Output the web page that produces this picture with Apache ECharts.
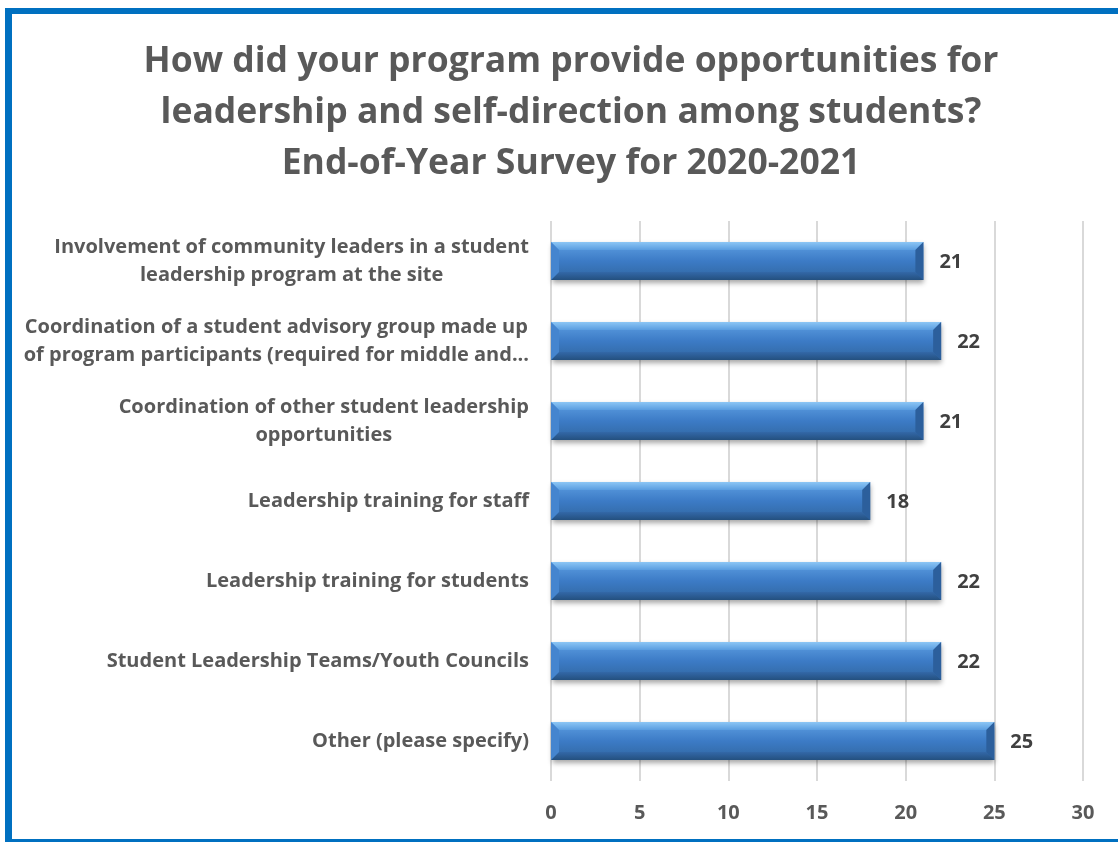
<!DOCTYPE html>
<html>
<head>
<meta charset="utf-8">
<script src="https://cdn.jsdelivr.net/npm/echarts@6/dist/echarts.min.js"></script>
<style>
  html, body { margin: 0; padding: 0; background: #ffffff; }
  #chart { width: 1118px; height: 842px; }
</style>
</head>
<body>
<div id="chart"></div>
<script>
// Survey responses, listed top to bottom
const categories = [
  "Involvement of community leaders in a student\nleadership program at the site",
  "Coordination of a student advisory group made up\nof program participants (required for middle and...",
  "Coordination of other student leadership\nopportunities",
  "Leadership training for staff",
  "Leadership training for students",
  "Student Leadership Teams/Youth Councils",
  "Other (please specify)"
];
const counts = [21, 22, 21, 18, 22, 22, 25];
const axisTicks = [0, 5, 10, 15, 20, 25, 30];

const titleLines = [
  "How did your program provide opportunities for",
  "leadership and self-direction among students?",
  "End-of-Year Survey for 2020-2021"
];

const FONT = '"Open Sans", Lato, sans-serif';
const chart = echarts.init(document.getElementById('chart'), null, { renderer: 'canvas' });

// Beveled bar: body plus four edge facets, with a soft drop shadow
function renderBar(params, api) {
  const v = api.value(1);
  const c = api.coord([v, api.value(0)]);
  const o = api.coord([0, api.value(0)]);
  const h = 38;
  const x0 = o[0], x1 = c[0];
  const y0 = c[1] - h / 2, y1 = c[1] + h / 2;
  const b = 8;
  return {
    type: 'group',
    children: [
      {
        type: 'rect',
        shape: { x: x0, y: y0, width: x1 - x0, height: h },
        style: {
          fill: new echarts.graphic.LinearGradient(0, 0, 0, 1, [
            { offset: 0, color: '#5e9fe2' },
            { offset: 0.5, color: '#3c7bc6' },
            { offset: 1, color: '#30669f' }
          ]),
          shadowBlur: 5,
          shadowOffsetY: 3,
          shadowOffsetX: 1,
          shadowColor: 'rgba(0,0,0,0.35)'
        }
      },
      {
        type: 'polygon',
        shape: { points: [[x0, y0], [x1, y0], [x1 - b, y0 + b], [x0 + b, y0 + b]] },
        style: {
          fill: new echarts.graphic.LinearGradient(0, 0, 0, 1, [
            { offset: 0, color: '#8cc6f5' },
            { offset: 1, color: '#5a9de0' }
          ])
        }
      },
      {
        type: 'polygon',
        shape: { points: [[x0, y1], [x1, y1], [x1 - b, y1 - b], [x0 + b, y1 - b]] },
        style: {
          fill: new echarts.graphic.LinearGradient(0, 0, 0, 1, [
            { offset: 0, color: '#3368a8' },
            { offset: 1, color: '#24507f' }
          ])
        }
      },
      {
        type: 'polygon',
        shape: { points: [[x0, y0], [x0 + b, y0 + b], [x0 + b, y1 - b], [x0, y1]] },
        style: { fill: '#4585cf' }
      },
      {
        type: 'polygon',
        shape: { points: [[x1, y0], [x1 - b, y0 + b], [x1 - b, y1 - b], [x1, y1]] },
        style: { fill: '#2c5f9c' }
      },
      {
        type: 'text',
        style: {
          text: String(v),
          x: x1 + 16,
          y: c[1] + 1,
          align: 'left',
          verticalAlign: 'middle',
          fill: '#404040',
          font: 'bold 20px ' + FONT
        }
      }
    ]
  };
}

const option = {
  backgroundColor: '#ffffff',
  animation: false,
  title: {
    text: titleLines.join('\n'),
    left: 566,
    textAlign: 'center',
    top: 31,
    textStyle: {
      fontFamily: FONT,
      fontWeight: 'bold',
      fontSize: 35.5,
      lineHeight: 51,
      color: '#595959'
    }
  },
  grid: { left: 551, right: 35, top: 221, bottom: 61 },
  xAxis: {
    type: 'value',
    min: axisTicks[0],
    max: axisTicks[axisTicks.length - 1],
    interval: axisTicks[1] - axisTicks[0],
    axisLine: { show: false },
    axisTick: { show: false },
    splitLine: { lineStyle: { color: '#d9d9d9', width: 2 } },
    axisLabel: {
      margin: 22,
      color: '#595959',
      fontFamily: FONT,
      fontWeight: 'bold',
      fontSize: 20
    }
  },
  yAxis: {
    type: 'category',
    inverse: true,
    data: categories,
    axisLine: { show: false },
    axisTick: { show: false },
    axisLabel: {
      margin: 22,
      color: '#595959',
      fontFamily: FONT,
      fontWeight: 'bold',
      fontSize: 20,
      lineHeight: 28,
      formatter: function (val) {
        return val.split('\n').map(function (s) { return '{c|' + s + '}'; }).join('\n');
      },
      rich: {
        c: {
          align: 'center',
          color: '#595959',
          fontFamily: FONT,
          fontWeight: 'bold',
          fontSize: 20,
          lineHeight: 28
        }
      }
    }
  },
  series: [{
    type: 'custom',
    renderItem: renderBar,
    encode: { x: 1, y: 0 },
    data: counts.map(function (v, i) { return [i, v]; })
  }],
  graphic: [
    // blue frame around the chart
    { type: 'rect', shape: { x: 5, y: 8, width: 1113, height: 6 }, style: { fill: '#0070c0' }, z: 100 },
    { type: 'rect', shape: { x: 5, y: 8, width: 7, height: 834 }, style: { fill: '#0070c0' }, z: 100 },
    { type: 'rect', shape: { x: 5, y: 839, width: 1113, height: 3 }, style: { fill: '#0070c0' }, z: 100 }
  ]
};

chart.setOption(option);
</script>
</body>
</html>
